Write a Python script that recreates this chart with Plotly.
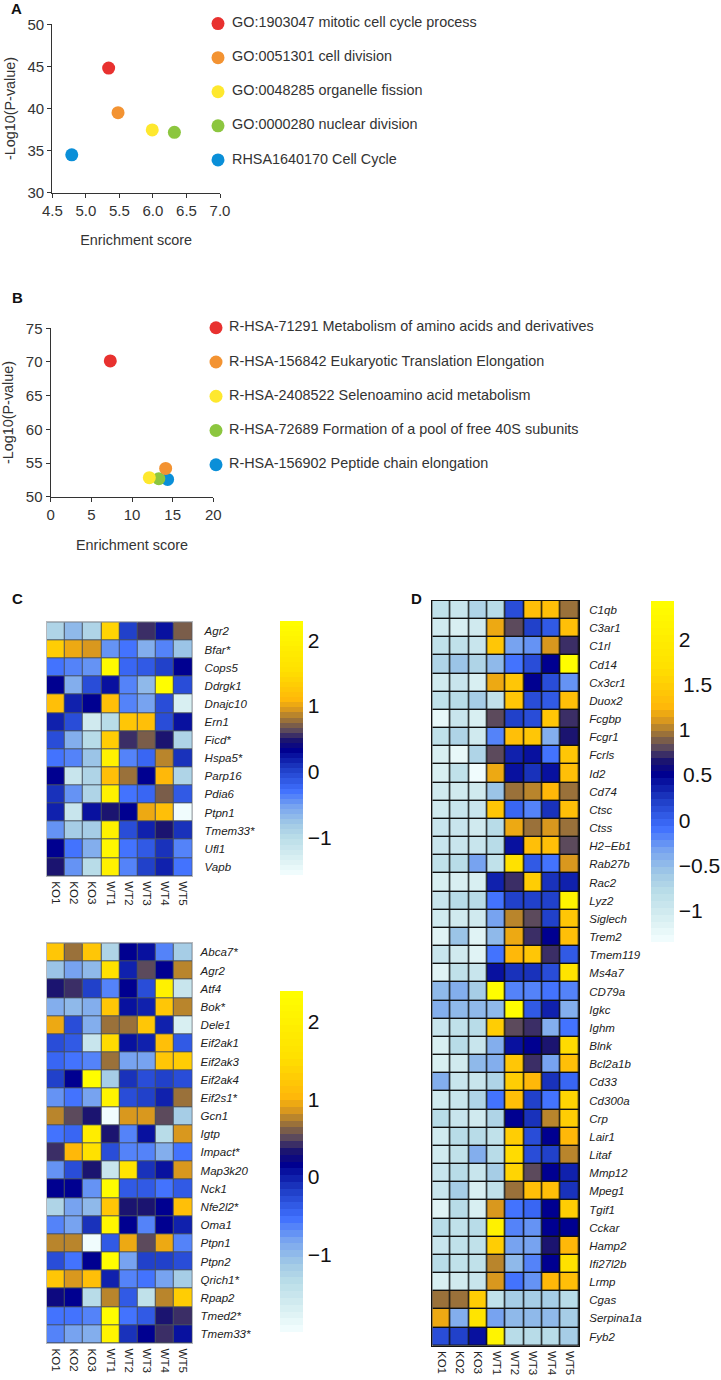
"""Enrichment scatter plots (A, B) and expression heatmaps (C, D)."""
import numpy as np
import plotly.graph_objects as go

W, H = 721, 1380
FONT = "Liberation Sans"
INK = "#333333"

# --- panel A
a_labels = [
    "GO:1903047 mitotic cell cycle process",
    "GO:0051301 cell division",
    "GO:0048285 organelle fission",
    "GO:0000280 nuclear division",
    "RHSA1640170 Cell Cycle",
]
a_score = [5.34, 5.48, 5.99, 6.32, 4.79]
a_logp = [44.8, 39.5, 37.45, 37.17, 34.5]

# --- panel B
b_labels = [
    "R-HSA-71291 Metabolism of amino acids and derivatives",
    "R-HSA-156842 Eukaryotic Translation Elongation",
    "R-HSA-2408522 Selenoamino acid metabolism",
    "R-HSA-72689 Formation of a pool of free 40S subunits",
    "R-HSA-156902 Peptide chain elongation",
]
b_score = [7.33, 14.14, 12.13, 13.3, 14.38]
b_logp = [70.15, 54.2, 52.82, 52.67, 52.57]

dot_colors = ["#e8312f", "#f39332", "#fee82e", "#8cc63f", "#0a8fd8"]

# --- heatmaps. Cell values are positions along each colour bar, in percent
samples = ["KO1", "KO2", "KO3", "WT1", "WT2", "WT3", "WT4", "WT5"]

c1_genes = ["Agr2", "Bfar*", "Cops5", "Ddrgk1", "Dnajc10", "Ern1", "Ficd*", "Hspa5*",
            "Parp16", "Pdia6", "Ptpn1", "Tmem33*", "Ufl1", "Vapb"]
c1_levels = [
    [17, 23, 16, 76, 40, 55, 47, 58],
    [74, 66, 64, 29, 33, 24, 31, 20],
    [33, 30, 28, 96, 35, 37, 40, 49],
    [49, 25, 38, 46, 31, 23, 98, 38],
    [70, 44, 49, 71, 31, 26, 39, 7],
    [44, 39, 9, 14, 73, 71, 39, 46],
    [39, 24, 15, 75, 55, 58, 52, 16],
    [33, 30, 20, 90, 31, 35, 62, 42],
    [49, 11, 17, 71, 60, 49, 69, 17],
    [42, 28, 16, 90, 33, 35, 58, 36],
    [44, 11, 46, 52, 49, 66, 71, 1],
    [28, 19, 19, 90, 39, 44, 52, 43],
    [49, 33, 25, 95, 33, 37, 43, 31],
    [52, 28, 15, 90, 31, 41, 44, 33],
]

c2_genes = ["Abca7*", "Agr2", "Atf4", "Bok*", "Dele1", "Eif2ak1", "Eif2ak3", "Eif2ak4",
            "Eif2s1*", "Gcn1", "Igtp", "Impact*", "Map3k20", "Nck1", "Nfe2l2*", "Oma1",
            "Ptpn1", "Ptpn2", "Qrich1*", "Rpap2", "Tmed2*", "Tmem33*"]
c2_levels = [
    [72, 60, 73, 16, 49, 47, 30, 19],
    [21, 27, 23, 80, 45, 57, 49, 62],
    [53, 55, 41, 31, 49, 38, 90, 11],
    [25, 22, 25, 72, 47, 45, 72, 62],
    [66, 38, 25, 60, 60, 73, 44, 7],
    [38, 37, 11, 78, 47, 45, 70, 36],
    [34, 33, 30, 60, 26, 27, 72, 74],
    [41, 49, 99, 19, 42, 38, 41, 38],
    [28, 33, 26, 92, 38, 41, 44, 60],
    [62, 57, 52, 1, 64, 64, 57, 18],
    [32, 34, 88, 52, 31, 47, 15, 64],
    [55, 69, 80, 38, 31, 31, 25, 32],
    [29, 38, 52, 11, 82, 42, 47, 64],
    [49, 49, 28, 98, 36, 36, 33, 36],
    [16, 26, 22, 72, 52, 52, 49, 71],
    [30, 27, 42, 94, 49, 31, 49, 44],
    [62, 62, 1, 36, 66, 57, 66, 30],
    [38, 33, 49, 98, 27, 41, 41, 38],
    [73, 64, 70, 44, 31, 32, 27, 18],
    [50, 48, 15, 62, 36, 12, 62, 75],
    [33, 32, 30, 98, 33, 36, 52, 55],
    [31, 27, 25, 92, 42, 49, 55, 47],
]

d_genes = ["C1qb", "C3ar1", "C1rl", "Cd14", "Cx3cr1", "Duox2", "Fcgbp", "Fcgr1", "Fcrls",
           "Id2", "Cd74", "Ctsc", "Ctss", "H2\u2212Eb1", "Rab27b", "Rac2", "Lyz2", "Siglech",
           "Trem2", "Tmem119", "Ms4a7", "CD79a", "Igkc", "Ighm", "Blnk", "Bcl2a1b", "Cd33",
           "Cd300a", "Crp", "Lair1", "Litaf", "Mmp12", "Mpeg1", "Tgif1", "Cckar", "Hamp2",
           "Ifi27l2b", "Lrmp", "Cgas", "Serpina1a", "Fyb2"]
d_levels = [
    [13, 10, 16, 15, 39, 71, 70, 60],
    [8, 6, 8, 66, 57, 41, 36, 70],
    [13, 12, 11, 73, 26, 28, 64, 55],
    [16, 20, 16, 23, 33, 38, 49, 98],
    [9, 11, 7, 66, 72, 49, 38, 29],
    [13, 14, 19, 12, 72, 38, 36, 71],
    [3, 11, 7, 57, 41, 38, 73, 55],
    [13, 16, 9, 30, 70, 72, 24, 52],
    [7, 3, 16, 57, 44, 47, 33, 73],
    [7, 12, 0, 66, 47, 42, 47, 70],
    [8, 9, 9, 20, 60, 62, 69, 60],
    [8, 10, 11, 73, 34, 31, 42, 71],
    [10, 11, 8, 14, 66, 60, 64, 60],
    [10, 11, 10, 14, 47, 70, 71, 57],
    [13, 14, 27, 12, 80, 36, 33, 64],
    [7, 6, 7, 45, 55, 74, 42, 44],
    [10, 14, 14, 33, 41, 41, 41, 92],
    [8, 8, 9, 26, 62, 57, 41, 73],
    [5, 20, 5, 22, 66, 55, 49, 70],
    [10, 8, 4, 33, 68, 72, 55, 36],
    [5, 13, 11, 46, 42, 42, 39, 82],
    [22, 24, 19, 98, 31, 31, 33, 31],
    [25, 23, 22, 22, 98, 36, 44, 24],
    [10, 13, 14, 75, 57, 55, 24, 33],
    [6, 14, 10, 24, 46, 49, 52, 78],
    [6, 9, 22, 24, 72, 55, 27, 71],
    [25, 11, 11, 16, 75, 69, 42, 34],
    [9, 10, 16, 32, 70, 41, 33, 76],
    [15, 11, 9, 16, 49, 42, 62, 75],
    [9, 14, 14, 13, 75, 38, 49, 69],
    [9, 12, 24, 14, 79, 38, 41, 62],
    [10, 14, 11, 19, 77, 57, 49, 44],
    [10, 19, 7, 12, 60, 70, 70, 42],
    [5, 14, 7, 64, 33, 34, 49, 75],
    [14, 13, 14, 90, 30, 29, 49, 48],
    [10, 12, 12, 74, 27, 27, 52, 69],
    [14, 12, 13, 62, 22, 31, 49, 81],
    [7, 8, 11, 64, 33, 29, 68, 70],
    [60, 60, 75, 13, 18, 18, 18, 15],
    [66, 24, 82, 27, 22, 22, 22, 18],
    [38, 40, 47, 92, 14, 15, 15, 18],
]

# colour bar ranges and ticks
c1_range = (-1.563, 2.296)
c1_ticks = [-1, 0, 1, 2]
c2_range = (-2.0, 2.4)
c2_ticks = [-1, 0, 1, 2]
d_range = (-1.35, 2.43)
d_ticks = [-1, -0.5, 0, 0.5, 1, 1.5, 2]

# bar colours, bottom to top
ramp_pos = [0, .072, .151, .203, .269, .334, .413, .491, .531, .57, .603, .649, .688, .806, 1]
ramp_rgb = [(244, 255, 255), (216, 239, 242), (184, 220, 232), (160, 200, 230), (120, 164, 240),
            (64, 112, 255), (32, 64, 200), (0, 0, 144), (28, 21, 112), (92, 74, 92),
            (143, 106, 63), (216, 152, 31), (255, 184, 10), (255, 225, 0), (255, 255, 0)]


def banded_scale(n=50):
    scale = []
    for i in range(n):
        mid = (i + 0.5) / n
        rgb = [int(np.interp(mid, ramp_pos, [c[k] for c in ramp_rgb])) for k in range(3)]
        color = f"rgb({rgb[0]},{rgb[1]},{rgb[2]})"
        scale.append([i / n, color])
        scale.append([(i + 1) / n, color])
    return scale


def real_values(levels, zrange):
    return zrange[0] + np.array(levels) / 100 * (zrange[1] - zrange[0])


def xdom(x0, x1):
    return [x0 / W, x1 / W]


def ydom(top, bottom):
    return [1 - bottom / H, 1 - top / H]


def bar_label(t):
    # fractions sit slightly indented on the original bars
    text = f"{t:g}".replace("-", "\u2212")
    return "\u2009" + text if t in (0.5, 1.5) else text


SCALE = banded_scale()
fig = go.Figure()


def add_dots(x, y, labels, xa, ya, la_x, la_y):
    # drawn last to first so the red dot ends up on top
    fig.add_trace(go.Scatter(
        x=x[::-1], y=y[::-1], mode="markers", xaxis=xa, yaxis=ya, showlegend=False,
        marker=dict(size=13, color=dot_colors[::-1]),
    ))
    fig.add_trace(go.Scatter(
        x=[0] * len(labels), y=labels, mode="markers", xaxis=la_x, yaxis=la_y, showlegend=False,
        marker=dict(size=13, color=dot_colors), cliponaxis=False,
    ))
    fig.add_trace(go.Scatter(
        x=[1] * len(labels), y=labels, mode="text", text=labels, textposition="middle right",
        textfont=dict(family=FONT, size=14.4, color=INK), xaxis=la_x, yaxis=la_y,
        showlegend=False, cliponaxis=False,
    ))


add_dots(a_score, a_logp, a_labels, "x", "y", "x2", "y2")
add_dots(b_score, b_logp, b_labels, "x3", "y3", "x4", "y4")


def add_heat(levels, genes, zrange, ticks, xa, ya, bar_x, bar_top, bar_bottom, gap, grid):
    # dark rectangle behind the cells shows through the gaps as grid lines
    fig.add_shape(type="rect", xref=f"{xa} domain", yref=f"{ya} domain", x0=0, x1=1, y0=0, y1=1,
                  fillcolor=grid, line_width=0, layer="below")
    fig.add_trace(go.Heatmap(
        z=real_values(levels, zrange), x=samples, y=genes, xaxis=xa, yaxis=ya,
        zmin=zrange[0], zmax=zrange[1], colorscale=SCALE, xgap=gap, ygap=gap,
        colorbar=dict(
            x=bar_x / W, xanchor="left", xpad=0, ypad=0, y=1 - bar_top / H, yanchor="top",
            lenmode="pixels", len=bar_bottom - bar_top, thickness=23, outlinewidth=0,
            tickmode="array", tickvals=ticks, ticktext=[bar_label(t) for t in ticks],
            ticks="", ticklen=0, tickfont=dict(family=FONT, size=21, color="#111111"),
        ),
    ))


add_heat(c1_levels, c1_genes, c1_range, c1_ticks, "x5", "y5", 280, 620.7, 875, 1, "#48505c")
add_heat(c2_levels, c2_genes, c2_range, c2_ticks, "x6", "y6", 280, 991, 1331.7, 1, "#48505c")
add_heat(d_levels, d_genes, d_range, d_ticks, "x7", "y7", 650.7, 601, 941.7, 1.4, "#111111")


def dot_axis(dom, rng, dtick, title, standoff, anchor, fmt=None):
    ax = dict(
        domain=dom, range=rng, dtick=dtick, anchor=anchor, showgrid=False, zeroline=False,
        showline=True, linecolor=INK, linewidth=1.3, ticks="outside", ticklen=4, tickwidth=1.3,
        tickcolor=INK, tickfont=dict(family=FONT, size=15, color=INK),
        title=dict(text=title, standoff=standoff, font=dict(family=FONT, size=14.4, color=INK)),
    )
    if fmt:
        ax["tickformat"] = fmt
    return ax


def hidden_axis(dom, rng, anchor):
    return dict(domain=dom, range=rng, anchor=anchor, visible=False)


def heat_xaxis(dom, anchor, line):
    return dict(
        domain=dom, anchor=anchor, tickangle=90, ticks="", showgrid=False, zeroline=False,
        showline=True, mirror=True, linecolor=line, linewidth=1,
        ticklabelstandoff=2, tickfont=dict(family=FONT, size=11.5, color="#222222"),
    )


def heat_yaxis(dom, anchor, line, standoff):
    return dict(
        domain=dom, anchor=anchor, side="right", autorange="reversed", dtick=1, ticks="",
        showgrid=False, zeroline=False, showline=True, mirror=True, linecolor=line, linewidth=1,
        ticklabelstandoff=standoff,
        tickfont=dict(family=FONT, size=11.5, color="#222222", style="italic"),
    )


C_LINE = "#b5b8bc"
D_LINE = "#111111"

fig.update_layout(
    width=W, height=H, margin=dict(l=0, r=0, t=0, b=0, autoexpand=False),
    paper_bgcolor="white", plot_bgcolor="white", showlegend=False,
    font=dict(family=FONT, color=INK),
    xaxis=dot_axis(xdom(52.3, 220), [4.5, 7], 0.5, "Enrichment score", 17, "y", ".1f"),
    yaxis=dot_axis(ydom(24.3, 192.7), [30, 50], 5, "-Log10(P-value)", 8, "x"),
    xaxis2=hidden_axis(xdom(218, 232), [0, 1], "y2"),
    yaxis2=hidden_axis(ydom(6.5, 177), [4.5, -0.5], "x2"),
    xaxis3=dot_axis(xdom(50.7, 213.3), [0, 20], 5, "Enrichment score", 18, "y3"),
    yaxis3=dot_axis(ydom(328.3, 496.7), [50, 75], 5, "-Log10(P-value)", 8, "x3"),
    xaxis4=hidden_axis(xdom(216, 229), [0, 1], "y4"),
    yaxis4=hidden_axis(ydom(310.6, 481.9), [4.5, -0.5], "x4"),
    xaxis5=heat_xaxis(xdom(46.7, 192.3), "y5", C_LINE),
    yaxis5=heat_yaxis(ydom(622.3, 876), "x5", C_LINE, 9),
    xaxis6=heat_xaxis(xdom(46.7, 192.3), "y6", C_LINE),
    yaxis6=heat_yaxis(ydom(943.3, 1343.3), "x6", C_LINE, 5),
    xaxis7=heat_xaxis(xdom(432.3, 579), "y7", D_LINE),
    yaxis7=heat_yaxis(ydom(601, 1345.7), "x7", D_LINE, 7),
)

for letter, px, py in [("A", 9, 8), ("B", 10, 298), ("C", 10, 598), ("D", 409, 598)]:
    fig.add_annotation(
        text=f"<b>{letter}</b>", x=px / W, y=1 - py / H, xref="paper", yref="paper",
        xanchor="left", yanchor="middle", showarrow=False,
        font=dict(family=FONT, size=15, color="#111111"),
    )

# the page's default body margin would push the figure off the window
fig.write_html("out.html", config={"displayModeBar": False},
               post_script="document.body.style.margin = '0';")
